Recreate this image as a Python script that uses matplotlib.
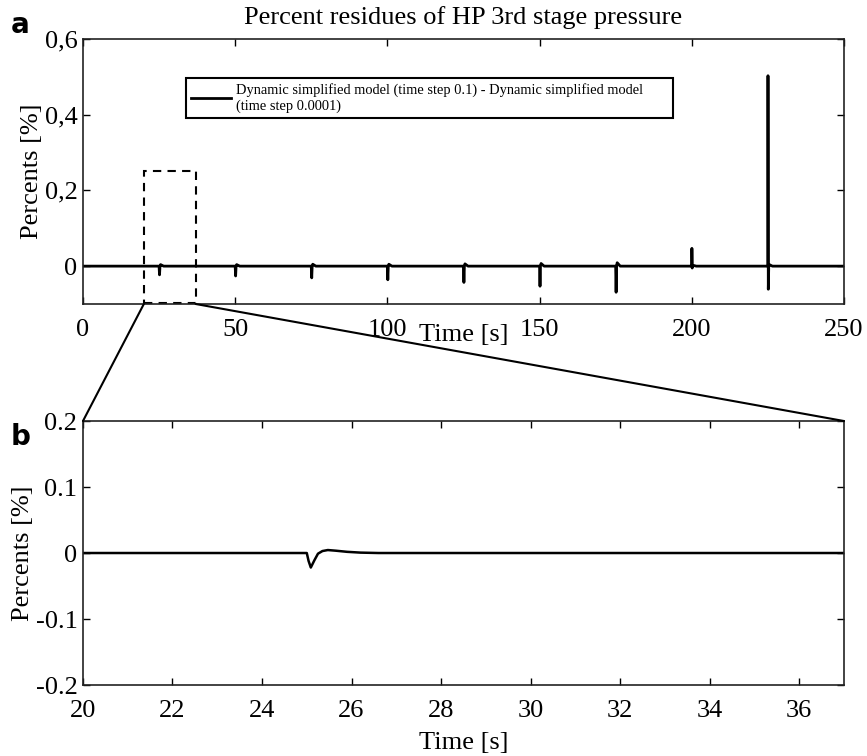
"""Percent residues of HP 3rd stage pressure, overview plus zoom panel."""

import matplotlib
matplotlib.use("Agg")
import matplotlib.pyplot as plt
from matplotlib.patches import Rectangle, ConnectionPatch

# events in the overview (time step 0.1 minus time step 0.0001)
EVENT_T = [25, 50, 75, 100, 125, 150, 175, 200, 225]
EVENT_UP = [0.0, 0.0, 0.0, 0.0, 0.0, 0.0, 0.0, 0.047, 0.503]
EVENT_DIP = [-0.023, -0.026, -0.031, -0.036, -0.043, -0.053, -0.069, -0.005, -0.061]
EVENT_OVER = [0.004, 0.004, 0.005, 0.005, 0.006, 0.007, 0.009, 0.002, 0.004]

# zoomed trace around t = 25 s
ZOOM_T = [20.0, 25.0, 25.04, 25.09, 25.17, 25.25, 25.35, 25.47, 25.65, 25.9, 26.2, 26.6, 37.0]
ZOOM_V = [0.0, 0.0, -0.012, -0.022, -0.011, -0.001, 0.003, 0.0045, 0.0035, 0.0018, 0.0006, 0.0, 0.0]

TOP_YTICKS = [0, 0.2, 0.4, 0.6]
TOP_YLABELS = ["0", "0,2", "0,4", "0,6"]
BOT_YTICKS = [-0.2, -0.1, 0, 0.1, 0.2]
BOT_YLABELS = ["-0.2", "-0.1", "0", "0.1", "0.2"]

LEGEND_TEXT = ("Dynamic simplified model (time step 0.1) - Dynamic simplified model\n"
               "(time step 0.0001)")

plt.rcParams["font.family"] = "Liberation Serif"
plt.rcParams["mathtext.fontset"] = "stix"

FS = 19


def overview_series():
    t, v = [0.0], [0.0]
    for et, up, dip, ov in zip(EVENT_T, EVENT_UP, EVENT_DIP, EVENT_OVER):
        t.append(et)
        v.append(0.0)
        if up:
            t.append(et + 0.05)
            v.append(up)
        t += [et + 0.15, et + 0.3, et + 0.5, et + 1.5]
        v += [dip, 0.0, ov, 0.0]
    t.append(250.0)
    v.append(0.0)
    return t, v


def style(ax):
    ax.tick_params(direction="in", top=True, right=True, length=5, width=1,
                   labelsize=FS)
    ax.tick_params(axis="x", pad=11)
    ax.tick_params(axis="y", pad=4)
    for s in ax.spines.values():
        s.set_linewidth(1.2)
        s.set_color("#222222")


fig = plt.figure(figsize=(8.67, 7.56), dpi=100)
ax1 = fig.add_axes([0.0957, 0.5979, 0.8777, 0.3505])
ax2 = fig.add_axes([0.0957, 0.0939, 0.8777, 0.3492])

# panel a
t, v = overview_series()
ax1.plot(t, v, color="black", linewidth=2.0, label=LEGEND_TEXT)
ax1.set_xlim(0, 250)
ax1.set_ylim(-0.1, 0.6)
ax1.set_xticks([0, 50, 100, 150, 200, 250])
ax1.set_yticks(TOP_YTICKS)
ax1.set_yticklabels(TOP_YLABELS)
style(ax1)
ax1.set_title("Percent residues of HP 3rd stage pressure", fontsize=FS, pad=11)
ax1.set_ylabel("Percents [%]", fontsize=FS, labelpad=1)
ax1.set_xlabel("Time [s]", fontsize=FS)
ax1.xaxis.set_label_coords(0.5, -0.075)

leg = ax1.legend(loc="upper left", bbox_to_anchor=(0.135, 0.702, 0.640, 0.151),
                 mode="expand", borderaxespad=0, fancybox=False, framealpha=1,
                 edgecolor="black", prop={"size": 10.4}, handlelength=2.8,
                 handletextpad=0.3, borderpad=0.35, labelspacing=0.2)
leg.get_frame().set_linewidth(1.5)

ax1.add_patch(Rectangle((20, -0.097), 17, 0.347, fill=False, edgecolor="black",
                        linestyle=(0, (4, 3)), linewidth=1.5, clip_on=False))

# panel b
ax2.plot(ZOOM_T, ZOOM_V, color="black", linewidth=1.8)
ax2.set_xlim(20, 37)
ax2.set_ylim(-0.2, 0.2)
ax2.set_xticks(range(20, 37, 2))
ax2.set_yticks(BOT_YTICKS)
ax2.set_yticklabels(BOT_YLABELS)
style(ax2)
ax2.set_ylabel("Percents [%]", fontsize=FS, labelpad=1)
ax2.set_xlabel("Time [s]", fontsize=FS, labelpad=7)

# connectors from the dashed box to panel b
for x in (20, 37):
    con = ConnectionPatch(xyA=(x, -0.1), coordsA=ax1.transData,
                          xyB=(x, 0.2), coordsB=ax2.transData,
                          color="black", linewidth=1.5)
    fig.add_artist(con)

fig.text(0.012, 0.967, "a", fontsize=20, fontweight="bold", family="DejaVu Sans",
         va="center")
fig.text(0.012, 0.422, "b", fontsize=20, fontweight="bold", family="DejaVu Sans",
         va="center")

plt.savefig("out.png", dpi=100)
plt.close()
